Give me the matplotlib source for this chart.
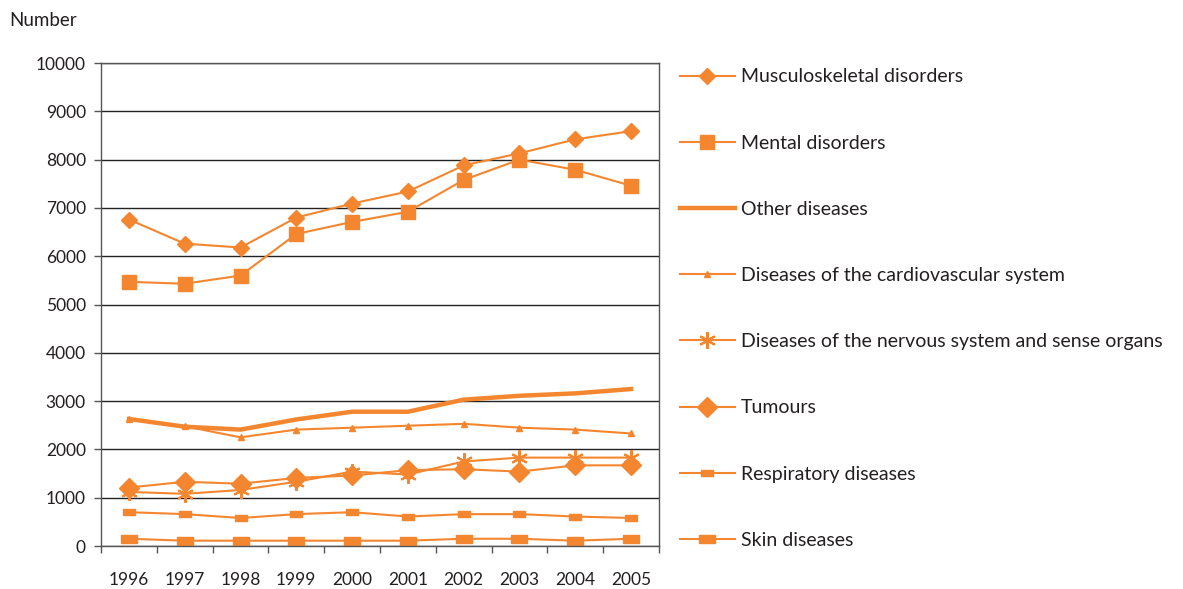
import matplotlib.pyplot as plt
import numpy as np

years = ['1996', '1997', '1998', '1999', '2000', '2001', '2002', '2003', '2004', '2005']

musculoskeletal = [6760, 6260, 6180, 6800, 7090, 7340, 7880, 8130, 8420, 8590]
mental = [5470, 5430, 5600, 6460, 6710, 6920, 7580, 8000, 7790, 7460]
other = [2630, 2470, 2410, 2620, 2780, 2780, 3030, 3110, 3160, 3250]
cardiovascular = [2620, 2480, 2250, 2410, 2450, 2490, 2530, 2450, 2410, 2330]
nervous = [1120, 1080, 1160, 1330, 1540, 1480, 1750, 1830, 1830, 1830]
tumours = [1210, 1330, 1290, 1410, 1460, 1570, 1590, 1540, 1670, 1670]
respiratory = [700, 660, 580, 660, 700, 610, 660, 660, 610, 580]
skin = [150, 110, 110, 110, 110, 110, 150, 150, 110, 150]

ORANGE = '#f4862f'
TEXT = '#231f20'

plt.rcParams['font.family'] = ['Lato', 'DejaVu Sans']

rect = [(-1, -0.55), (1, -0.55), (1, 0.55), (-1, 0.55), (-1, -0.55)]
asterisk = (6, 2, 0)

series = [
    ('Musculoskeletal disorders', musculoskeletal, dict(marker='D', markersize=8, lw=1.5)),
    ('Mental disorders', mental, dict(marker='s', markersize=10, lw=1.5)),
    ('Other diseases', other, dict(marker=None, lw=3.2)),
    ('Diseases of the cardiovascular system', cardiovascular, dict(marker='^', markersize=5, lw=1.5)),
    ('Diseases of the nervous system and sense organs', nervous, dict(marker=asterisk, markersize=12, mew=1.5, lw=1.5)),
    ('Tumours', tumours, dict(marker='D', markersize=10, lw=1.5)),
    ('Respiratory diseases', respiratory, dict(marker=rect, markersize=8, lw=1.5)),
    ('Skin diseases', skin, dict(marker=rect, markersize=11, lw=1.5)),
]

fig = plt.figure(figsize=(11.83, 5.89), dpi=100)
ax = fig.add_axes([0.0854, 0.073, 0.4716, 0.82])

x = np.arange(len(years))
handles = []
for name, vals, style in series:
    h, = ax.plot(x, vals, color=ORANGE, label=name, **style)
    handles.append(h)

ax.set_xlim(-0.5, len(years) - 0.5)
ax.set_ylim(0, 10000)
ax.set_yticks(np.arange(0, 10001, 1000))
ax.set_yticklabels([str(v) for v in range(0, 10001, 1000)])
ax.set_xticks(x)
ax.set_xticklabels(years)
ax.set_xticks(np.arange(-0.5, len(years), 1), minor=True)
ax.tick_params(axis='x', which='major', length=0, pad=19, labelsize=12.5, labelcolor=TEXT)
ax.tick_params(axis='x', which='minor', length=5, width=1, color='#555555')
ax.tick_params(axis='y', length=5, width=1, color='#555555', labelsize=12.5, labelcolor=TEXT, pad=6)
ax.grid(axis='y', color='#222222', lw=1)
ax.set_axisbelow(True)
for s in ax.spines.values():
    s.set_color('#555555')
    s.set_linewidth(1)

fig.text(0.008, 0.965, 'Number', fontsize=13.5, color=TEXT, ha='left', va='center')

leg = fig.legend(handles=handles, loc='upper left', bbox_to_anchor=(0.568, 0.897),
                 frameon=False, fontsize=14, handlelength=2.85, handletextpad=0.3,
                 labelspacing=2.53, borderaxespad=0)
for t in leg.get_texts():
    t.set_color(TEXT)

fig.savefig('out.png', dpi=100)
